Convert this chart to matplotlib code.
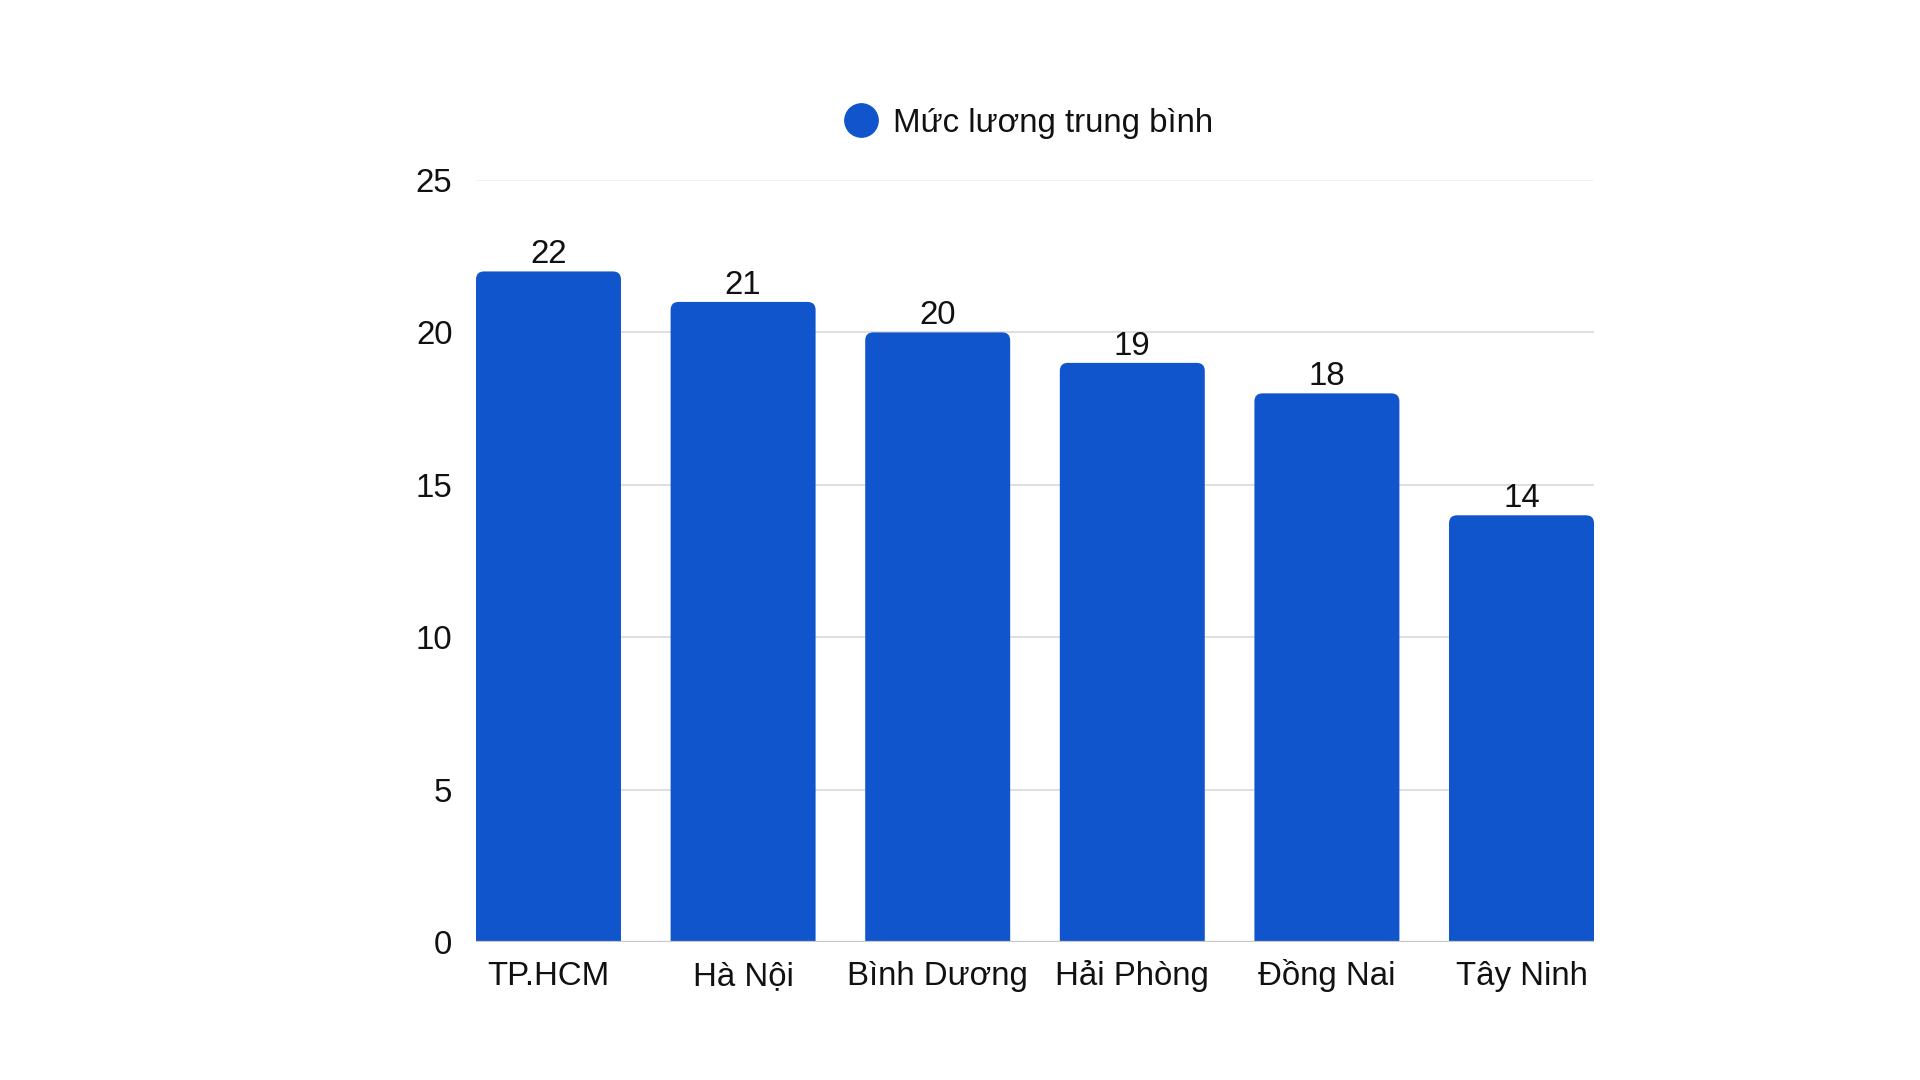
import matplotlib
matplotlib.use("Agg")
import matplotlib.pyplot as plt
from matplotlib.patches import FancyBboxPatch
from matplotlib.lines import Line2D

plt.rcParams['font.family'] = ['Liberation Sans', 'DejaVu Sans']

categories = ["TP.HCM", "Hà Nội", "Bình Dương", "Hải Phòng", "Đồng Nai", "Tây Ninh"]
values = [22, 21, 20, 19, 18, 14]
yticks = [0, 5, 10, 15, 20, 25]
series_name = "Mức lương trung bình"

BAR = "#1155CC"
FS = 23.8
W, H = 1920, 1080
fig = plt.figure(figsize=(19.2, 10.8), dpi=100)
ax_l, ax_r, ax_b, ax_t = 476 / W, 1594 / W, 1 - 942 / H, 1 - 180 / H
ax = fig.add_axes([ax_l, ax_b, ax_r - ax_l, ax_t - ax_b])

bw = 0.745
n = len(categories)
ax.set_xlim(-bw / 2, n - 1 + bw / 2)
ax.set_ylim(0, 25)

# pixel scales for rounded corners
px_x = (ax_r - ax_l) * W / (n - 1 + bw)
px_y = (ax_t - ax_b) * H / 25
r_px = 8
rx = r_px / px_x
ry = r_px / px_y

for i, v in enumerate(values):
    p = FancyBboxPatch((i - bw / 2, -ry * 2), bw, v + ry * 2,
                       boxstyle=f"round,pad=0,rounding_size={rx}",
                       mutation_aspect=ry / rx,
                       facecolor=BAR, edgecolor="none", zorder=3, clip_on=True)
    ax.add_patch(p)
    ax.annotate(str(v), (i, v), xytext=(0, 6), textcoords="offset points",
                ha="center", va="baseline", fontsize=FS, color="#111111", zorder=4)

ax.set_yticks(yticks)
ax.set_yticklabels([str(t) for t in yticks])
ax.set_xticks(range(n))
ax.set_xticklabels(categories)
ax.tick_params(axis="y", length=0, pad=17, labelsize=FS, labelcolor="#111111")
ax.tick_params(axis="x", length=0, pad=30.8, labelsize=FS, labelcolor="#111111")
for lab in ax.get_xticklabels():
    lab.set_verticalalignment("baseline")

for t in yticks[1:]:
    col = "#efefef" if t == 25 else "#d9d9d9"
    ax.axhline(t, color=col, lw=1.2, zorder=1)
ax.axhline(0, color="#c8c8c8", lw=1.6, zorder=5)

for s in ax.spines.values():
    s.set_visible(False)

# legend
fig.add_artist(Line2D([861 / W], [1 - 120 / H], marker="o", markersize=24,
                      color=BAR, linestyle="none", transform=fig.transFigure))
fig.text(893 / W, 1 - 120 / H, series_name, ha="left", va="center_baseline",
         fontsize=FS, color="#111111")

fig.savefig("out.png", dpi=100)
